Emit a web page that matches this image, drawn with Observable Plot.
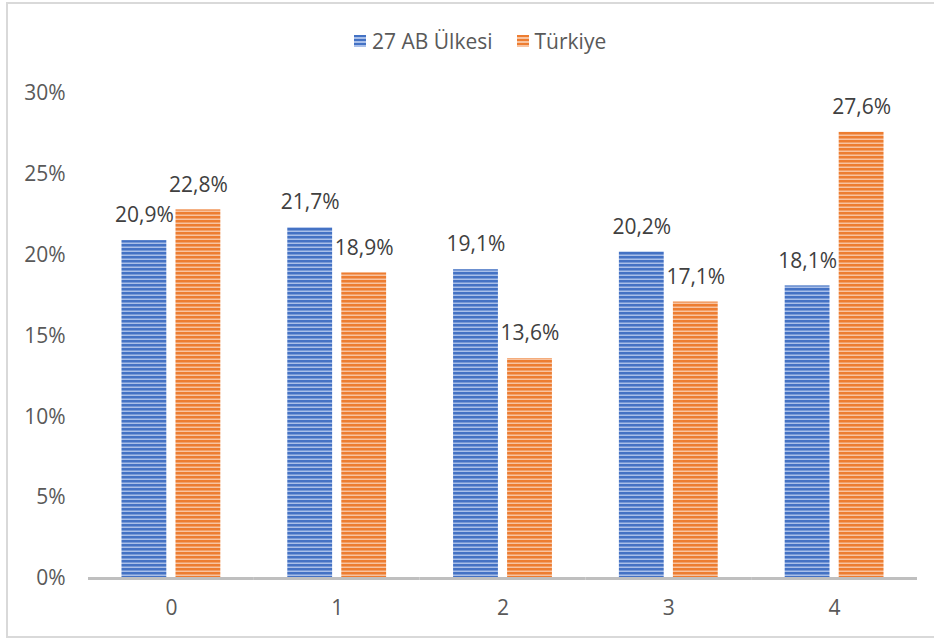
<!DOCTYPE html>
<html><head><meta charset="utf-8">
<script src="https://cdn.jsdelivr.net/npm/d3@7"></script>
<script src="https://cdn.jsdelivr.net/npm/@observablehq/plot@0.6"></script>
<style>
body{margin:0;background:#fff;font-family:"Open Sans","Noto Sans",sans-serif;}
#wrap{position:relative;width:934px;height:642px;overflow:hidden;}
#frame{position:absolute;left:6px;top:2px;width:940px;height:636px;border:2px solid #d9d9d9;box-sizing:border-box;pointer-events:none;}
#legend{position:absolute;left:354px;top:27px;display:flex;align-items:center;font-size:21px;color:#595959;white-space:nowrap;}
#legend .sw{width:12px;height:12px;display:inline-block;margin-right:6px;}
#legend .item{display:flex;align-items:center;margin-right:24px;}
</style></head>
<body>
<div id="wrap"><div id="chart"></div><div id="legend"></div><div id="frame"></div></div>
<script>
const categories = ["0","1","2","3","4"];
const seriesNames = ["27 AB Ülkesi","Türkiye"];
const abValues = [0.209,0.217,0.191,0.202,0.181];
const trValues = [0.228,0.189,0.136,0.171,0.276];
const yTicks = [0,0.05,0.10,0.15,0.20,0.25,0.30];

const data = [];
categories.forEach((c,i)=>{
  data.push({cat:c, series:seriesNames[0], value:abValues[i]});
  data.push({cat:c, series:seriesNames[1], value:trValues[i]});
});

const trLocale = d3.formatLocale({decimal:",", thousands:".", grouping:[3], currency:["","TL"]});
const fmtLabel = trLocale.format(".1%");
const fmtTick = trLocale.format(".0%");

const chart = Plot.plot({
  width:934, height:642,
  marginTop:93, marginBottom:64, marginLeft:88, marginRight:17,
  style:{fontFamily:'"Open Sans","Noto Sans",sans-serif', fontSize:"21px", color:"#595959", background:"transparent"},
  fx:{domain:categories, padding:0, round:false, label:null},
  x:{domain:seriesNames, paddingInner:0.17, paddingOuter:0.62, round:false, axis:null},
  y:{domain:[0,0.30], label:null},
  color:{domain:seriesNames, range:["url(#patBlue)","url(#patOrange)"]},
  marks:[
    Plot.barY(data,{fx:"cat", x:"series", y:"value", fill:"series"}),
    Plot.text(data,{fx:"cat", x:"series", y:"value", text:d=>fmtLabel(d.value), dy:-25, fill:"#404040", fontSize:21}),
    Plot.ruleY([0],{stroke:"#bfbfbf", strokeWidth:3}),
    Plot.axisY({ticks:yTicks, tickFormat:fmtTick, tickSize:0, tickPadding:23, fontSize:21, label:null}),
    Plot.axisFx({anchor:"bottom", tickSize:0, tickPadding:22, fontSize:21, label:null})
  ]
});

// define stripe patterns
const ns = "http://www.w3.org/2000/svg";
const defs = document.createElementNS(ns,"defs");
function makePattern(id, base, light){
  const p = document.createElementNS(ns,"pattern");
  p.setAttribute("id",id); p.setAttribute("patternUnits","userSpaceOnUse");
  p.setAttribute("width","8"); p.setAttribute("height","4");
  const r1 = document.createElementNS(ns,"rect");
  r1.setAttribute("width","8"); r1.setAttribute("height","4"); r1.setAttribute("fill",base);
  const r2 = document.createElementNS(ns,"rect");
  r2.setAttribute("y","2.5"); r2.setAttribute("width","8"); r2.setAttribute("height","1.5"); r2.setAttribute("fill",light);
  p.appendChild(r1); p.appendChild(r2); defs.appendChild(p);
}
makePattern("patBlue","#4472c4","#a9bfe9");
makePattern("patOrange","#ed7d31","#f8c3a0");
chart.insertBefore(defs, chart.firstChild);
document.getElementById("chart").appendChild(chart);

// legend
const legend = document.getElementById("legend");
const swatchStyles = [
  "repeating-linear-gradient(to bottom,#4472c4 0 2.5px,#a9bfe9 2.5px 4px)",
  "repeating-linear-gradient(to bottom,#ed7d31 0 2.5px,#f8c3a0 2.5px 4px)"
];
seriesNames.forEach((s,i)=>{
  const it = document.createElement("div"); it.className="item";
  const sw = document.createElement("span"); sw.className="sw"; sw.style.background=swatchStyles[i];
  const tx = document.createElement("span"); tx.textContent=s;
  it.appendChild(sw); it.appendChild(tx); legend.appendChild(it);
});
</script>
</body></html>
